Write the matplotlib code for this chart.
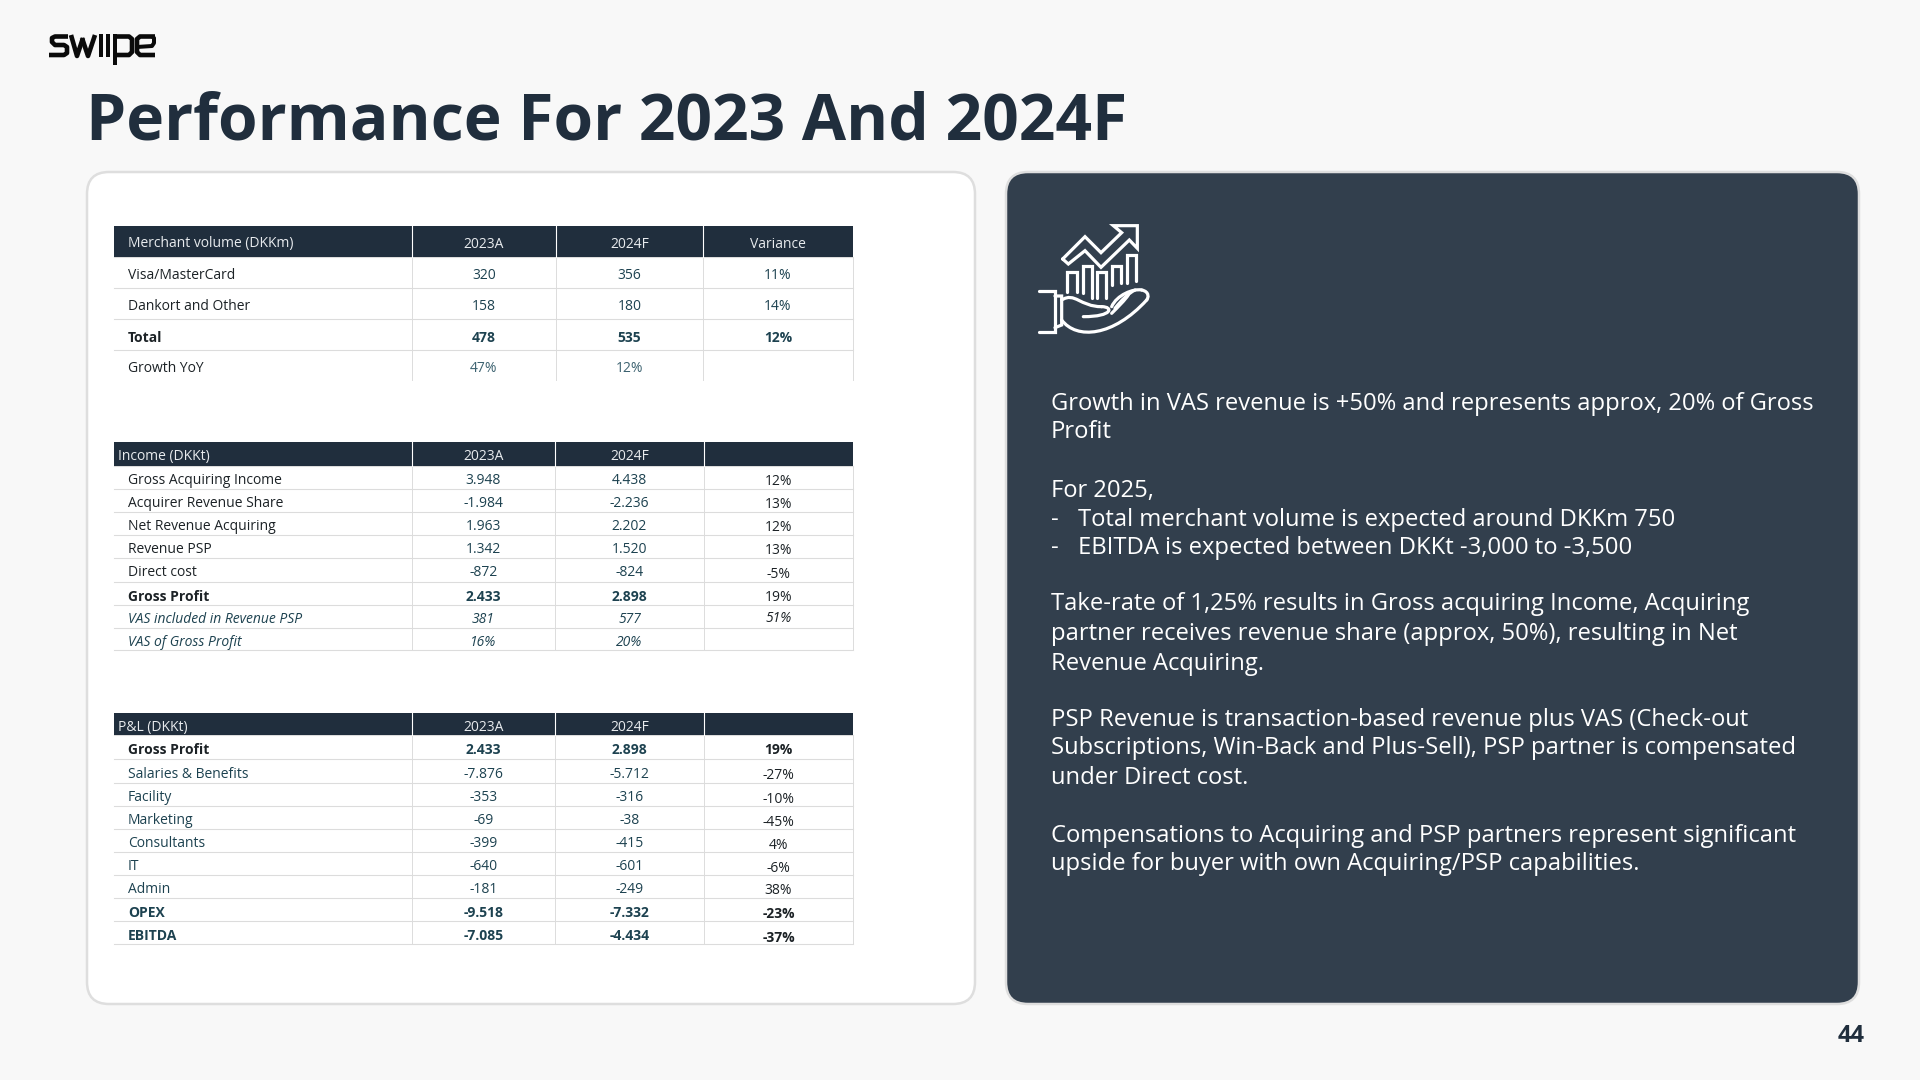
import matplotlib
matplotlib.use('Agg')
import matplotlib.pyplot as plt
from matplotlib.patches import FancyBboxPatch, Rectangle, PathPatch
from matplotlib.path import Path

plt.rcParams['font.family'] = ['Open Sans', 'DejaVu Sans']

# Table data
merchant_title = 'Merchant volume (DKKm)'
merchant_labels = ['Visa/MasterCard', 'Dankort and Other', 'Total', 'Growth YoY']
merchant_2023 = ['320', '158', '478', '47%']
merchant_2024 = ['356', '180', '535', '12%']
merchant_var = ['11%', '14%', '12%', '']
merchant_style = ['n', 'n', 'b', 'n']

income_title = 'Income (DKKt)'
income_labels = ['Gross Acquiring Income', 'Acquirer Revenue Share', 'Net Revenue Acquiring',
                 'Revenue PSP', 'Direct cost', 'Gross Profit', 'VAS included in Revenue PSP',
                 'VAS of Gross Profit']
income_2023 = ['3.948', '-1.984', '1.963', '1.342', '-872', '2.433', '381', '16%']
income_2024 = ['4.438', '-2.236', '2.202', '1.520', '-824', '2.898', '577', '20%']
income_var = ['12%', '13%', '12%', '13%', '-5%', '19%', '51%', '']
income_style = ['n', 'n', 'n', 'n', 'n', 'b', 'i', 'i']

pl_title = 'P&L (DKKt)'
pl_labels = ['Gross Profit', 'Salaries & Benefits', 'Facility', 'Marketing', 'Consultants',
             'IT', 'Admin', 'OPEX', 'EBITDA']
pl_2023 = ['2.433', '-7.876', '-353', '-69', '-399', '-640', '-181', '-9.518', '-7.085']
pl_2024 = ['2.898', '-5.712', '-316', '-38', '-415', '-601', '-249', '-7.332', '-4.434']
pl_var = ['19%', '-27%', '-10%', '-45%', '4%', '-6%', '38%', '-23%', '-37%']
pl_style = ['b', 'n', 'n', 'n', 'n', 'n', 'n', 'b2', 'b2']

body_lines = [
    'Growth in VAS revenue is +50% and represents approx, 20% of Gross',
    'Profit',
    'For 2025,',
    'Total merchant volume is expected around DKKm 750',
    'EBITDA is expected between DKKt -3,000 to -3,500',
    'Take-rate of 1,25% results in Gross acquiring Income, Acquiring',
    'partner receives revenue share (approx, 50%), resulting in Net',
    'Revenue Acquiring.',
    'PSP Revenue is transaction-based revenue plus VAS (Check-out',
    'Subscriptions, Win-Back and Plus-Sell), PSP partner is compensated',
    'under Direct cost.',
    'Compensations to Acquiring and PSP partners represent significant',
    'upside for buyer with own Acquiring/PSP capabilities.',
]
body_y = [404.5, 432.5, 490.5, 519.5, 548.5, 604.5, 634.5, 663.5, 720.5, 748.5, 778.5, 835.5, 864.5]
body_dash = [False, False, False, True, True, False, False, False, False, False, False, False, False]

BG = '#f8f8f8'
NAVY = '#202e3d'
CARD = '#323f4d'
TEAL = '#1d4250'
SOFT_TEAL = '#3c6270'
INK = '#1c2226'
RULE = '#dcdcdc'
TEXT_DY = 3.5

fig = plt.figure(figsize=(19.2, 10.8), dpi=100, facecolor=BG)
ax = fig.add_axes([0, 0, 1, 1])
ax.set_xlim(0, 1920)
ax.set_ylim(1080, 0)
ax.axis('off')


def px(w):
    return w * 0.72


# Cards
ax.add_patch(FancyBboxPatch((87, 172), 888, 832, boxstyle='round,pad=0,rounding_size=22',
                            fc='white', ec='#dedede', lw=1.8))
ax.add_patch(FancyBboxPatch((1006, 172), 853, 832, boxstyle='round,pad=0,rounding_size=22',
                            fc=CARD, ec='#dedede', lw=1.8))

ax.text(86, 122.5, 'Performance For 2023 And 2024F', fontsize=46.15, fontweight='bold',
        color=NAVY, va='center', ha='left')
ax.text(1865, 1036, '44', fontsize=17, fontweight='bold', color=NAVY, va='center', ha='right')


def draw_table(title, labels, v23, v24, var, styles, cols, rows, head, title_x, label_x,
               fs, var_dy, last_rule=True, var_head=''):
    ax.add_patch(Rectangle((cols[0], rows[0]), cols[-1] - cols[0], rows[1] - rows[0],
                           fc=NAVY, ec='none', zorder=2))
    for x in cols[1:-1]:
        ax.plot([x, x], [rows[0], rows[1]], color='white', lw=0.8, zorder=3)
    for x in cols[1:]:
        ax.plot([x, x], [rows[1], rows[-1]], color=RULE, lw=0.7, zorder=1)
    n = len(rows) - 1 if last_rule else len(rows) - 2
    for i in range(1, n + 1):
        ax.plot([cols[0], cols[-1]], [rows[i], rows[i]], color=RULE, lw=0.8, zorder=1)

    hy = (rows[0] + rows[1]) / 2 + head + 2.5
    ax.text(title_x, hy, title, fontsize=fs, color='#e8ebee', va='center', ha='left', zorder=4)
    ax.text((cols[1] + cols[2]) / 2, hy, '2023A', fontsize=fs, color='#e8ebee', va='center', ha='center', zorder=4)
    ax.text((cols[2] + cols[3]) / 2, hy, '2024F', fontsize=fs, color='#e8ebee', va='center', ha='center', zorder=4)
    ax.text((cols[3] + cols[4]) / 2, hy, var_head, fontsize=fs, color='#e8ebee', va='center', ha='center', zorder=4)

    for i, lab in enumerate(labels):
        y = (rows[i + 1] + rows[i + 2]) / 2 + TEXT_DY
        st = styles[i]
        weight = 'bold' if st in ('b', 'b2') else 'normal'
        slant = 'italic' if st == 'i' else 'normal'
        lab_col = TEAL if st in ('i', 'b2') or title.startswith('P&L') and st == 'n' else INK
        val_col = SOFT_TEAL if lab == 'Growth YoY' else TEAL
        ax.text(label_x, y, lab, fontsize=fs, color=lab_col, fontweight=weight, style=slant,
                va='center', ha='left')
        ax.text((cols[1] + cols[2]) / 2, y, v23[i], fontsize=fs, color=val_col, fontweight=weight,
                style=slant, va='center', ha='center')
        ax.text((cols[2] + cols[3]) / 2, y, v24[i], fontsize=fs, color=val_col, fontweight=weight,
                style=slant, va='center', ha='center')
        var_weight = weight
        if title.startswith('Income'):
            var_weight = 'normal'
        var_col = TEAL if title.startswith('Merchant') else INK
        ax.text((cols[3] + cols[4]) / 2, y + var_dy[i], var[i], fontsize=fs, color=var_col,
                fontweight=var_weight, style=slant, va='center', ha='center')


draw_table(merchant_title, merchant_labels, merchant_2023, merchant_2024, merchant_var, merchant_style,
           [114, 412, 556, 703, 853], [226, 257, 287.5, 318.5, 349.5, 380], 0,
           127.5, 127.5, 10, [0, 0, 0, 0], last_rule=False, var_head='Variance')
draw_table(income_title, income_labels, income_2023, income_2024, income_var, income_style,
           [114, 412, 555, 704, 853],
           [442, 465.5, 488.7, 511.7, 534.7, 557.5, 581.5, 604.7, 627.5, 650.3], 0,
           118.5, 128, 10, [1, 1, 1, 1, 1, 1, -1.5, 0])
draw_table(pl_title, pl_labels, pl_2023, pl_2024, pl_var, pl_style,
           [114, 412, 555, 704, 853],
           [712.7, 735.3, 758.7, 782.5, 805.7, 828.7, 851.7, 874.7, 897.7, 920.7, 944.3], 1,
           118.5, 128, 10, [-1, 1, 2, 2, 2, 2, 1, 1, 2])

# Right card text
for line, y, dash in zip(body_lines, body_y, body_dash):
    if dash:
        ax.text(1051, y, '-', fontsize=17.15, color='white', va='center', ha='left')
        ax.text(1078, y, line, fontsize=17.15, color='white', va='center', ha='left')
    else:
        ax.text(1051, y, line, fontsize=17.15, color='white', va='center', ha='left')


# Icon, coordinates taken from a 3x crop at (1000, 160)
def ic(x, y):
    return 1000 + x / 3, 160 + y / 3


def stroke(points, codes=None, width=3.2, color='white'):
    verts = [ic(*p) for p in points]
    if codes is None:
        codes = [Path.MOVETO] + [Path.LINETO] * (len(verts) - 1)
    ax.add_patch(PathPatch(Path(verts, codes), fc='none', ec=color, lw=px(width),
                           capstyle='round', joinstyle='miter'))


stroke([(188, 297), (255, 230), (303, 278), (365, 218), (340, 197), (412, 197), (412, 265),
        (388, 240), (303, 322), (255, 272), (205, 312), (188, 297)])
stroke([(202, 395), (202, 335), (230, 335), (230, 395)])
stroke([(248, 400), (248, 318), (275, 318), (275, 415)])
stroke([(292, 415), (292, 337), (318, 337), (318, 415)])
stroke([(335, 375), (335, 318), (362, 318), (362, 370)])
stroke([(380, 368), (380, 285), (407, 285), (407, 362)])
stroke([(118, 393), (165, 393), (165, 517), (118, 517)])
stroke([(165, 408), (185, 408), (185, 495), (165, 503)])
c4 = [Path.MOVETO, Path.CURVE4, Path.CURVE4, Path.CURVE4]
stroke([(185, 420), (225, 395), (240, 440), (305, 440)], c4)
stroke([(305, 440), (340, 440), (340, 470), (250, 470)], c4)
stroke([(185, 480), (230, 540), (340, 530), (440, 420)], c4)
stroke([(335, 440), (350, 405), (400, 385), (425, 390)], c4)
stroke([(425, 390), (450, 395), (445, 415), (440, 420)], c4)
stroke([(345, 445), (365, 420), (385, 400), (405, 390)], c4)
stroke([(335, 460), (355, 440), (375, 420), (385, 405)], c4)


# Logo drawn as thick strokes
def logo(xs, ys, w=4.6):
    ax.plot(xs, ys, color='#0b0b0b', lw=px(w), solid_capstyle='butt', solid_joinstyle='round')


logo([68, 55, 52, 52, 55, 64, 67, 67, 64, 49], [36.5, 36.5, 38, 42, 45, 45, 47, 53, 55, 55])
logo([71, 77, 83], [35, 56, 38])
logo([82, 88, 95], [38, 56, 35])
logo([101, 101], [34, 57], 4)
logo([108, 108], [34, 57], 4)
logo([115, 115], [34, 65], 4)
logo([115, 129, 132, 132, 129, 117], [36.5, 36.5, 39, 52, 55, 55])
logo([155, 140, 137, 137, 140, 155], [36.5, 36.5, 39, 52, 55, 55])
logo([152, 154, 154, 152, 137], [36.5, 38, 43, 46, 47], 4)

plt.savefig('out.png', dpi=100, facecolor=BG)
plt.close(fig)
